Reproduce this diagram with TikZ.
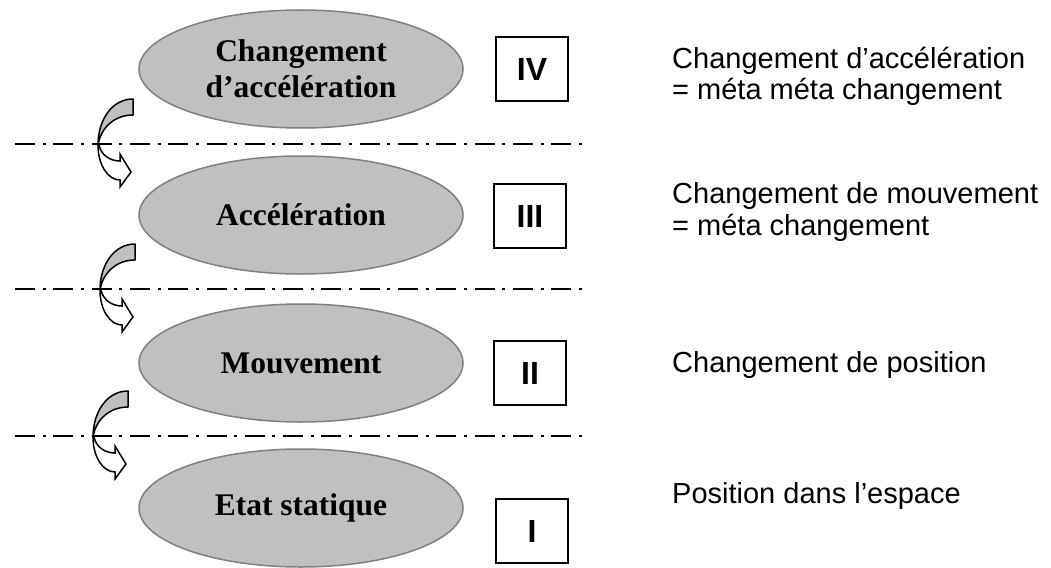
\documentclass[tikz,border=0pt]{standalone}
\usepackage{fontspec}
\setmainfont{Liberation Serif}
\newfontfamily\arialf{Liberation Sans}
\usetikzlibrary{shapes.geometric}

\definecolor{levelfill}{RGB}{192,192,192}
\definecolor{levelrim}{RGB}{128,128,128}

\tikzset{
  level/.style={ellipse, draw=levelrim, line width=1.5pt, fill=levelfill,
    minimum width=324pt, minimum height=118pt, inner sep=0pt, align=center,
    font=\fontsize{31.5}{36}\selectfont\bfseries},
  rankbox/.style={draw=black, line width=2pt, fill=white,
    minimum width=72pt, minimum height=64pt, inner sep=0pt,
    font=\arialf\fontsize{32}{36}\selectfont\bfseries},
  note/.style={anchor=base west, align=left, inner sep=0pt,
    font=\arialf\fontsize{29}{32}\selectfont},
  divider/.style={line width=2.2pt,
    dash pattern=on 20pt off 7.65pt on 3pt off 7.65pt},
  pics/bendarrow/.style={code={
    % shaded back of the band
    \draw[line width=1.5pt, fill=levelfill, line join=round]
      (35,-45) .. controls (14,-45) and (0,-24) .. (0,1)
      .. controls (3,-17) and (17,-29) .. (35,-29) -- cycle;
    % front of the band with its head
    \draw[line width=1.5pt, fill=white, line join=miter]
      (0,1) .. controls (0,21) and (10,36) .. (22,36) -- (22,43) -- (33,28)
      -- (22,10) -- (22,17) .. controls (12,17) and (3,11) .. (1,1) -- cycle;
  }}
}

\begin{document}
\begin{tikzpicture}[x=1pt, y=-1pt]
\useasboundingbox (0,0) rectangle (1051,567);

% the four levels
\node[level] (l4) at (301,69)  {Changement\\d’accélération};
\node[level] (l3) at (301,215) {Accélération};
\node[level] (l2) at (301,363) {Mouvement};
\node[level] (l1) at (301,508) {\raisebox{-2pt}{Etat statique}};

% rank boxes
\node[rankbox] (r4) at (532,69)  {IV};
\node[rankbox] (r3) at (530,216) {III};
\node[rankbox] (r2) at (530,373) {II};
\node[rankbox] (r1) at (532,531) {I};

% descriptions (anchored on the baseline of their last line)
\node[note] (d4) at (672,100) {Changement d’accélération\\= méta méta changement};
\node[note] (d3) at (672,235) {Changement de mouvement\\= méta changement};
\node[note] (d2) at (672,372) {Changement de position};
\node[note] (d1) at (672,503) {Position dans l’espace};

% bent arrows passing from one level down to the next
\coordinate (c1) at (98,144);
\coordinate (c2) at (100,289);
\coordinate (c3) at (93,436);
\pic at (c1) {bendarrow};
\pic at (c2) {bendarrow};
\pic at (c3) {bendarrow};

% dash-dot dividers between levels
\coordinate (a1) at (15,144); \coordinate (b1) at (582,144);
\coordinate (a2) at (15,289); \coordinate (b2) at (582,289);
\coordinate (a3) at (15,436); \coordinate (b3) at (582,436);
\draw[divider] (a1) -- (b1);
\draw[divider] (a2) -- (b2);
\draw[divider] (a3) -- (b3);
\end{tikzpicture}
\end{document}
